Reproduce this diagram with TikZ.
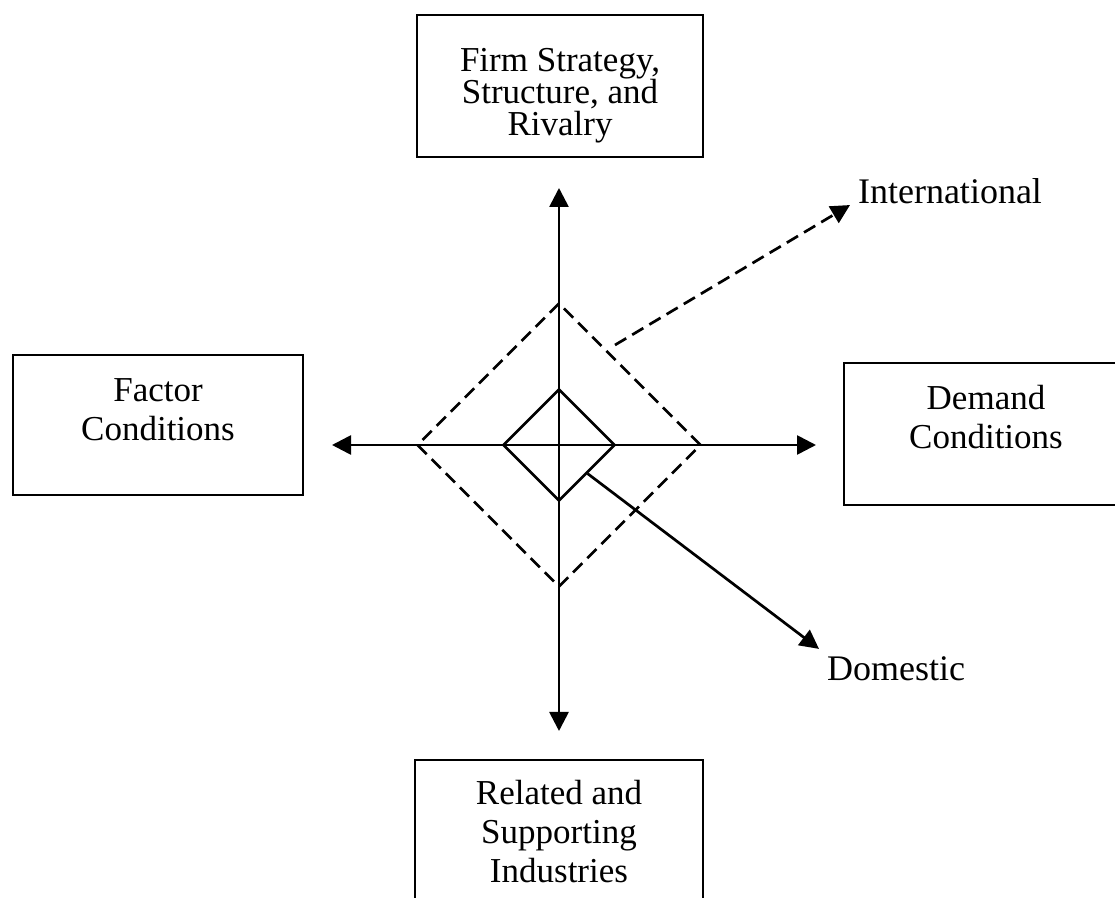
\documentclass[tikz,border=0pt]{standalone}
\usepackage{fontspec}
\setmainfont{Liberation Serif}
\usepackage{tikz}
\usetikzlibrary{arrows.meta, shapes.geometric}
\tikzstyle{nodeBox} = [rectangle, draw=black, minimum width=145pt, minimum height=71pt, inner sep=0pt]
\tikzstyle{nodeTxt} = [align=center, font=\fontsize{17.5}{19.5}\selectfont]
\tikzstyle{nodeLbl} = [font=\fontsize{18}{20}\selectfont]
\tikzstyle{nodeRomb} = [diamond, draw=black, aspect=1, inner sep=0pt]
\tikzstyle{dashLine} = [dash pattern=on 6.5pt off 3.5pt]
\tikzstyle{axisArrow} = [{Triangle[length=9.5pt,width=9.5pt]}-{Triangle[length=9.5pt,width=9.5pt]}]
\tikzstyle{oneArrow} = [-{Triangle[length=9.5pt,width=9.5pt]}]

\begin{document}
\begin{tikzpicture}[x=0.5pt, y=-0.5pt, line width=1.35pt]
    \useasboundingbox (0,0) rectangle (1115,898);
    \clip (0,0) rectangle (1115,898);

    \node (Firm) [nodeBox, minimum width=143pt] at (560,86) {};
    \node (FirmTxt) [nodeTxt, font=\fontsize{17.5}{16}\selectfont] at (560,96) {Firm Strategy,\\Structure, and\\Rivalry};

    \node (Factor) [nodeBox, minimum width=145pt, minimum height=70pt] at (158,425) {};
    \node (FactorTxt) [nodeTxt] at (158,410) {Factor\\Conditions};

    \node (Demand) [nodeBox, minimum width=142pt] at (986,434) {};
    \node (DemandTxt) [nodeTxt] at (986,417) {Demand\\Conditions};

    \node (Related) [nodeBox, minimum width=144pt] at (559,831) {};
    \node (RelatedTxt) [nodeTxt] at (559,832) {Related and\\Supporting\\Industries};

    \node (International) [nodeLbl] at (950,191) {International};
    \node (Domestic) [nodeLbl] at (896,669) {Domestic};

    \node (Outer) [nodeRomb, dashLine, minimum width=142pt, minimum height=142pt] at (559,445) {};
    \node (Inner) [nodeRomb, minimum width=56pt, minimum height=56pt] at (559,445) {};

    \coordinate (Up) at (559,188);
    \coordinate (Down) at (559,731);
    \coordinate (Left) at (332,445);
    \coordinate (Right) at (816,445);
    \coordinate (IntStart) at (615,345);

    \draw [axisArrow] (Up) -- (Down);
    \draw [axisArrow] (Left) -- (Right);
    \draw [oneArrow] (Inner.south east) -- (Domestic.north west);
    \draw [oneArrow, dashLine] (IntStart) -- (International.188);
\end{tikzpicture}
\end{document}
